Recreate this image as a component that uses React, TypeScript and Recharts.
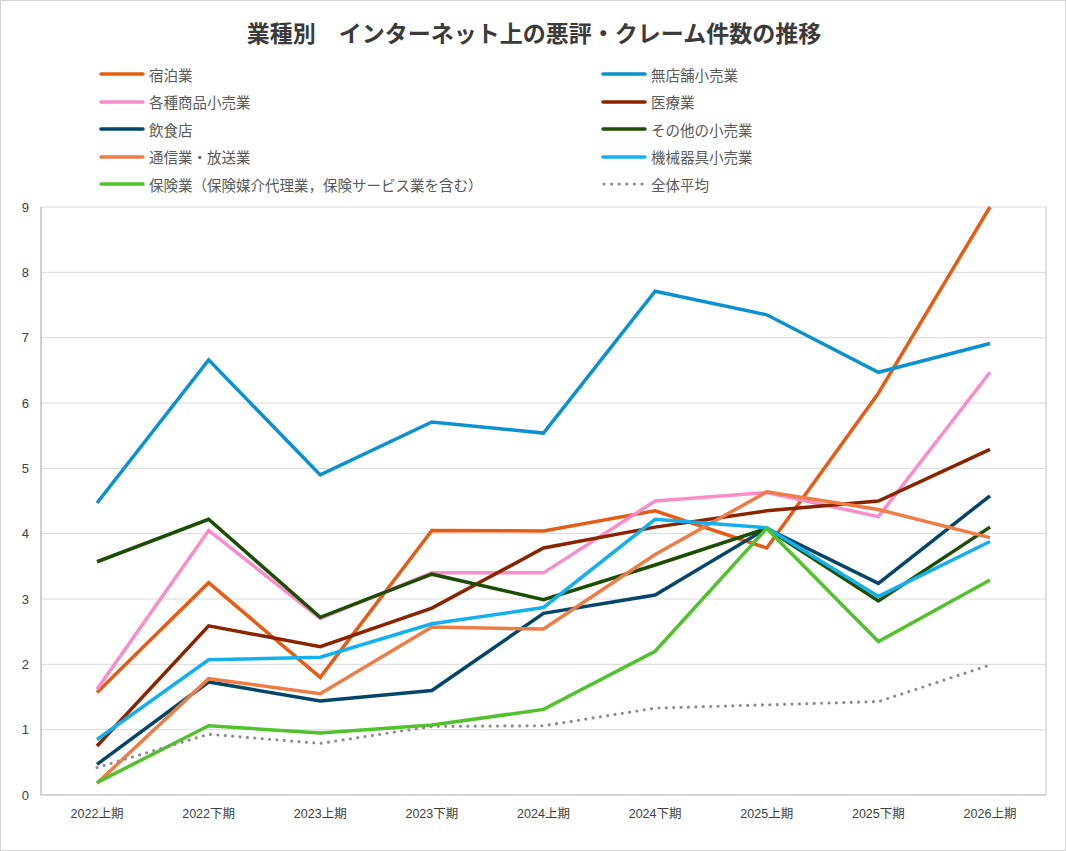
import React from 'react';
import { LineChart, Line, XAxis, YAxis, CartesianGrid } from 'recharts';

const categories = ['2022上期', '2022下期', '2023上期', '2023下期', '2024上期', '2024下期', '2025上期', '2025下期', '2026上期'];
const yTicks = [0, 1, 2, 3, 4, 5, 6, 7, 8, 9];

const shukuhaku = [1.57, 3.25, 1.8, 4.05, 4.04, 4.35, 3.78, 6.15, 9.0];
const mutenpo = [4.47, 6.66, 4.9, 5.71, 5.54, 7.71, 7.35, 6.47, 6.91];
const kakushu = [1.62, 4.05, 2.7, 3.4, 3.4, 4.5, 4.63, 4.26, 6.47];
const iryo = [0.75, 2.59, 2.27, 2.86, 3.78, 4.1, 4.35, 4.5, 5.29];
const inshoku = [0.47, 1.73, 1.44, 1.6, 2.78, 3.06, 4.08, 3.24, 4.58];
const sonota = [3.57, 4.22, 2.72, 3.38, 2.99, 3.52, 4.08, 2.97, 4.1];
const tsushin = [0.18, 1.78, 1.55, 2.57, 2.54, 3.68, 4.64, 4.37, 3.94];
const kikai = [0.85, 2.07, 2.11, 2.62, 2.87, 4.22, 4.09, 3.04, 3.88];
const hoken = [0.19, 1.06, 0.95, 1.07, 1.31, 2.2, 4.08, 2.35, 3.29];
const zentai = [0.42, 0.93, 0.79, 1.05, 1.06, 1.33, 1.38, 1.43, 1.99];

const seriesNames = [
  '宿泊業',
  '無店舗小売業',
  '各種商品小売業',
  '医療業',
  '飲食店',
  'その他の小売業',
  '通信業・放送業',
  '機械器具小売業',
  '保険業（保険媒介代理業，保険サービス業を含む）',
  '全体平均',
];
const seriesValues = [shukuhaku, mutenpo, kakushu, iryo, inshoku, sonota, tsushin, kikai, hoken, zentai];

const seriesColors = ['#E65C14', '#0A91D0', '#FA8CC8', '#8A2400', '#04466A', '#1B4D02', '#EE7C45', '#12B0EE', '#52C22C', '#8C8C8C'];

const data = categories.map((cat, i) => {
  const row: Record<string, string | number> = { cat };
  seriesValues.forEach((vals, s) => {
    row['s' + s] = vals[i];
  });
  return row;
});

const FONT = '"Liberation Sans", "Noto Sans CJK JP", sans-serif';
const JP = '"Noto Sans CJK JP", sans-serif';

function Legend() {
  return (
    <div style={{ position: 'absolute', left: 98, top: 61, width: 900 }}>
      {seriesNames.map((name, i) => {
        const col = i % 2;
        const row = Math.floor(i / 2);
        const dotted = i === 9;
        return (
          <div
            key={name}
            style={{
              position: 'absolute',
              left: col * 502,
              top: row * 27.5,
              height: 24,
              display: 'flex',
              alignItems: 'center',
              whiteSpace: 'nowrap',
            }}
          >
            <svg width={46} height={10} style={{ marginRight: 4 }}>
              {dotted ? (
                <line x1={3} y1={5} x2={44} y2={5} stroke={seriesColors[i]} strokeWidth={3.2} strokeDasharray="0 7.6" strokeLinecap="round" />
              ) : (
                <line x1={2} y1={5} x2={44} y2={5} stroke={seriesColors[i]} strokeWidth={3.5} strokeLinecap="round" />
              )}
            </svg>
            <span style={{ fontFamily: JP, fontSize: 14.5, color: '#595959' }}>{name}</span>
          </div>
        );
      })}
    </div>
  );
}

const frameVerticals = ({ offset }: any) => [offset.left, offset.left + offset.width];

export default function App() {
  return (
    <div
      style={{
        position: 'absolute',
        left: 0,
        top: 0,
        width: 1066,
        height: 851,
        background: '#fff',
        border: '1px solid #d4d4d4',
        boxSizing: 'border-box',
        overflow: 'hidden',
      }}
    >
      <div
        style={{
          position: 'absolute',
          left: 0,
          top: 14,
          width: 1066,
          textAlign: 'center',
          fontFamily: JP,
          fontWeight: 700,
          fontSize: 23,
          color: '#3a3a3a',
          whiteSpace: 'pre',
        }}
      >
        業種別　インターネット上の悪評・クレーム件数の推移
      </div>
      <Legend />
      <div style={{ position: 'absolute', left: -1, top: -1 }}>
        <LineChart width={1066} height={851} data={data} margin={{ top: 207, right: 20, bottom: 26, left: 0 }}>
          <CartesianGrid vertical={false} stroke="#d9d9d9" strokeWidth={1} />
          <CartesianGrid horizontal={false} verticalCoordinatesGenerator={frameVerticals} stroke="#c4c4c4" strokeWidth={1} />
          <XAxis
            dataKey="cat"
            padding={{ left: 56, right: 56 }}
            tickLine={false}
            tickSize={0}
            tickMargin={14}
            height={30}
            axisLine={{ stroke: '#bfbfbf' }}
            tick={{ fontFamily: FONT, fontSize: 12.5, fill: '#404040' }}
            interval={0}
          />
          <XAxis
            xAxisId="top"
            orientation="top"
            dataKey="cat"
            tick={false}
            tickLine={false}
            height={0}
            axisLine={{ stroke: '#c4c4c4' }}
          />
          <YAxis
            domain={[0, 9]}
            ticks={yTicks}
            tickLine={false}
            tickSize={0}
            tickMargin={12}
            width={41}
            axisLine={{ stroke: '#bfbfbf' }}
            tick={{ fontFamily: FONT, fontSize: 13, fill: '#404040' }}
            interval={0}
          />
          {seriesNames.map((name, i) => (
            <Line
              key={name}
              type="linear"
              dataKey={'s' + i}
              name={name}
              stroke={seriesColors[i]}
              strokeWidth={i === 9 ? 3.2 : 3.5}
              strokeDasharray={i === 9 ? '0 7.4' : undefined}
              strokeLinecap={i === 9 ? 'round' : 'butt'}
              strokeLinejoin="miter"
              dot={false}
              activeDot={false}
              isAnimationActive={false}
            />
          ))}
        </LineChart>
      </div>
    </div>
  );
}
